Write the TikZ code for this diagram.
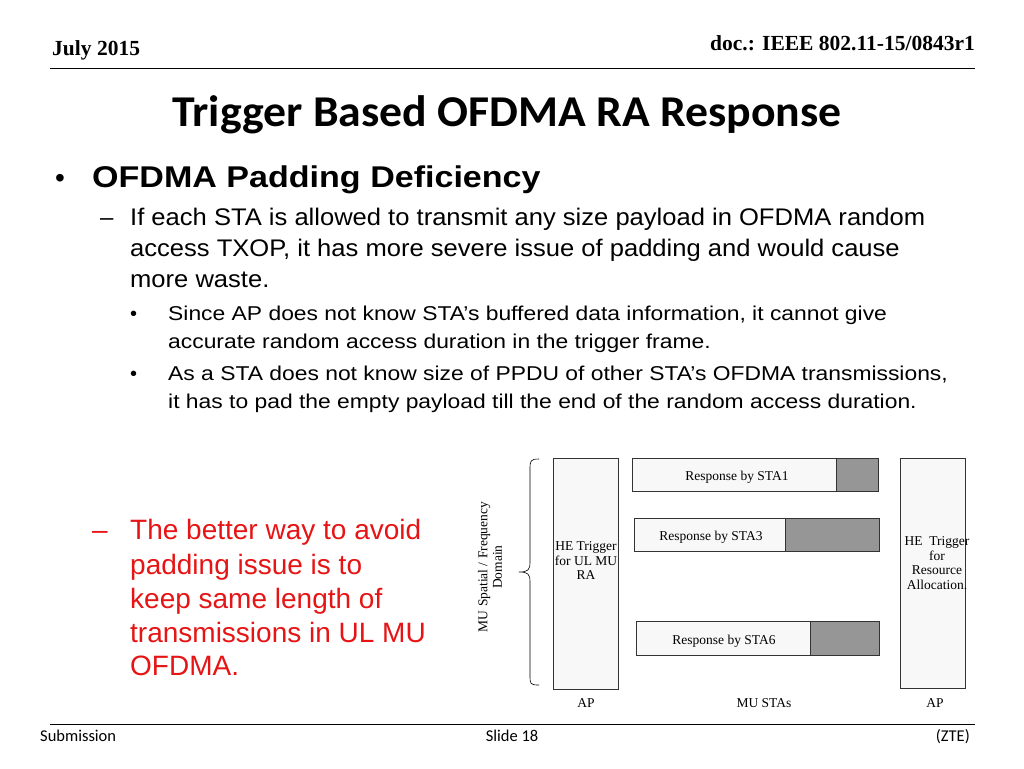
\documentclass[tikz,border=0pt]{standalone}
\usepackage{fontspec}
\setmainfont{Liberation Serif}
\newfontfamily\arsfont{Liberation Sans}
\newfontfamily\calfont{Carlito}
\newcommand\sxx[2]{\scalebox{#1}[1]{#2}}
\definecolor{redt}{RGB}{230,20,20}
\definecolor{lite}{RGB}{248,248,248}
\definecolor{dgray}{RGB}{150,150,150}
\begin{document}
\begin{tikzpicture}[x=1pt,y=-1pt,
  txt/.style={anchor=base west,inner sep=0pt},
  bx/.style={draw=black!80,fill=lite,line width=0.8pt},
  gb/.style={draw=black!80,fill=dgray,line width=0.8pt},
  sm/.style={font=\fontsize{13.5}{14.5}\selectfont,inner sep=0pt,align=center}]
\useasboundingbox (0,0) rectangle (1024,768);
\node[txt,font=\fontsize{21.5}{22}\selectfont\bfseries] (date) at (52,56) {July 2015};
\node[anchor=base east,inner sep=0pt,font=\fontsize{21.5}{22}\selectfont\bfseries] (doc) at (975,51) {doc.: IEEE 802.11-15/0843r1};
\draw[line width=0.8pt] (50,68) -- (975,68);
\node[anchor=base,inner sep=0pt,font=\calfont\fontsize{44}{48}\selectfont\bfseries] (title) at (507,126) {\sxx{1.04}{Trigger Based OFDMA RA Response}};
\node[txt,font=\arsfont\fontsize{28}{30}\selectfont] at (55,187) {•};
\node[txt,font=\arsfont\fontsize{30}{32}\selectfont\bfseries] (b1) at (92,187) {\sxx{1.135}{OFDMA Padding Deficiency}};
\begin{scope}[every node/.style={txt,font=\arsfont\fontsize{24}{26}\selectfont}]
\node at (100,225) {–};
\node at (130,225) {\sxx{1.065}{If each STA is allowed to transmit any size payload in OFDMA random}};
\node at (130,256) {\sxx{1.065}{access TXOP, it has more severe issue of padding and would cause}};
\node at (130,287) {\sxx{1.065}{more waste.}};
\end{scope}
\begin{scope}[every node/.style={txt,font=\arsfont\fontsize{20}{22}\selectfont}]
\node at (130,320) {•};
\node at (168,320) {\sxx{1.143}{Since AP does not know STA’s buffered data information, it cannot give}};
\node at (168,348) {\sxx{1.143}{accurate random access duration in the trigger frame.}};
\node at (130,380) {•};
\node at (168,380) {\sxx{1.143}{As a STA does not know size of PPDU of other STA’s OFDMA transmissions,}};
\node at (168,408) {\sxx{1.143}{it has to pad the empty payload till the end of the random access duration.}};
\end{scope}
\begin{scope}[every node/.style={txt,font=\arsfont\fontsize{28}{30}\selectfont,text=redt}]
\node at (92,539) {–};
\node at (130,539) {The better way to avoid};
\node at (130,574) {padding issue is to};
\node at (130,608) {keep same length of};
\node at (130,642) {transmissions in UL MU};
\node at (130,675) {OFDMA.};
\end{scope}
% diagram
\draw[bx] (553,458) rectangle (618,689);
\node[sm] (he1) at (586,561) {HE Trigger\\for UL MU\\RA};
\draw[bx] (900,458) rectangle (965,688);
\node[sm] (he2) at (937,563) {HE \ Trigger\\for\\Resource\\Allocation.};
\draw[bx] (632,458) rectangle (836,491); \draw[gb] (836,458) rectangle (878,491);
\node[sm] (s1) at (737,477) {Response by STA1};
\draw[bx] (634,518) rectangle (785,551); \draw[gb] (785,518) rectangle (879,551);
\node[sm] (s3) at (711,537) {Response by STA3};
\draw[bx] (636,621) rectangle (810,655); \draw[gb] (810,621) rectangle (879,655);
\node[sm] (s6) at (724,641) {Response by STA6};
\draw[line width=0.6pt] (539,459) .. controls (530,459) and (530,461) .. (530,470) -- (530,562) .. controls (530,570) and (528,572) .. (519,572) .. controls (528,572) and (530,574) .. (530,582) -- (530,675) .. controls (530,684) and (530,685) .. (539,685);
\node[sm,rotate=90] (ax) at (490,567) {MU Spatial / Frequency\\Domain};
\node[sm] (l1) at (586,703) {AP};
\node[sm] (l2) at (764,703) {MU STAs};
\node[sm] (l3) at (935,703) {AP};
\draw[line width=0.8pt] (50,724) -- (975,724);
\node[txt,font=\calfont\fontsize{16.5}{17}\selectfont] (sub) at (40,741) {Submission};
\node[anchor=base,inner sep=0pt,font=\calfont\fontsize{16.5}{17}\selectfont] (sl) at (512,741) {Slide 18};
\node[anchor=base east,inner sep=0pt,font=\calfont\fontsize{16.5}{17}\selectfont] (zte) at (970,741) {(ZTE)};
\end{tikzpicture}
\end{document}
